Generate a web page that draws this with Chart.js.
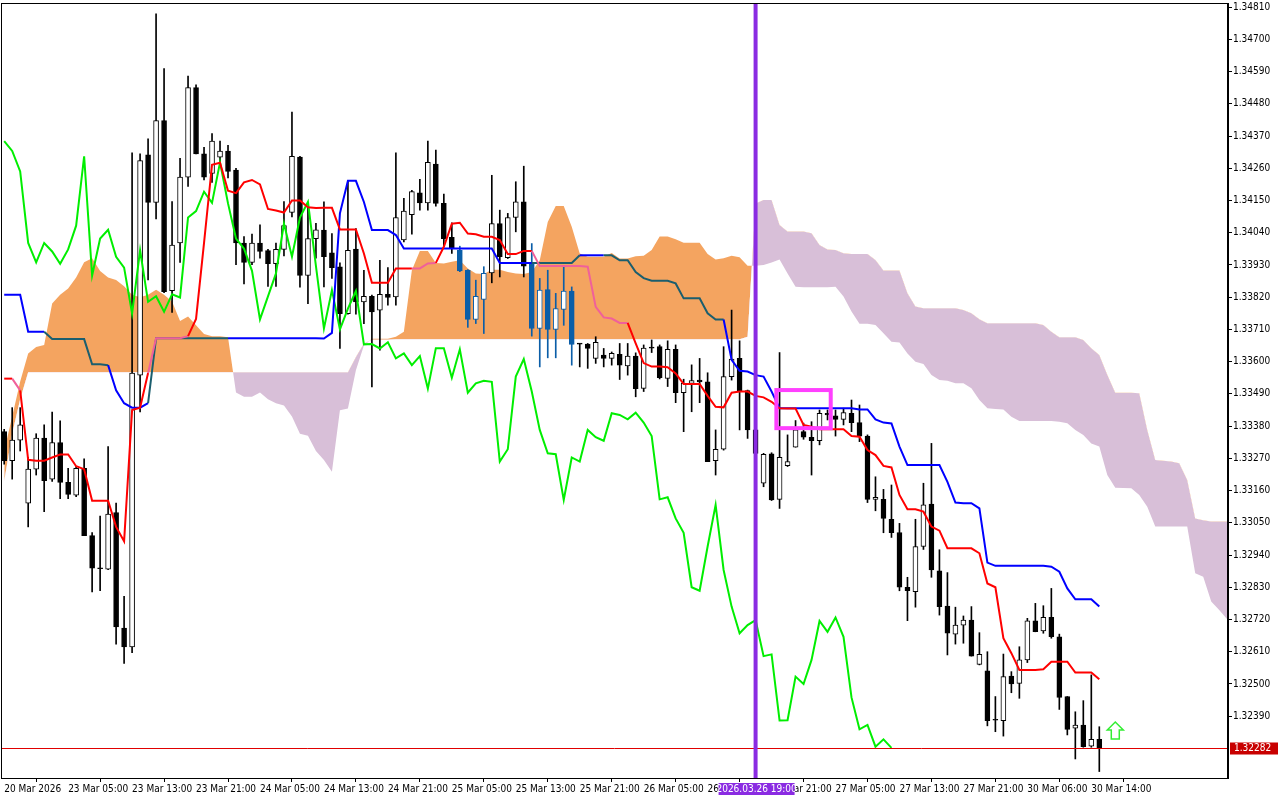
<!DOCTYPE html>
<html>
<head>
<meta charset="utf-8">
<script src="https://cdn.jsdelivr.net/npm/chart.js@4.4.1/dist/chart.umd.min.js"></script>
<style>
  html, body { margin: 0; padding: 0; background: #fff; }
  #wrap { width: 1280px; height: 800px; }
</style>
</head>
<body>
<div id="wrap"><canvas id="chart" width="1280" height="800"></canvas></div>
<script>
// hourly candles, index 0 = first visible bar
const opens = [1.33361,1.33262,1.33332,1.33117,1.33233,1.33339,1.33199,1.33324,1.33188,1.33144,
1.33236,1.33006,1.32895,1.32892,1.33085,1.32691,1.32626,1.33554,1.34306,1.34143,
1.34423,1.33842,1.34005,1.34230,1.34535,1.34309,1.34242,1.34298,1.34319,1.34254,
1.34005,1.33939,1.34005,1.33979,1.33934,1.33983,1.34109,1.34298,1.33894,1.34020,
1.34049,1.33971,1.33924,1.33764,1.33984,1.33804,1.33823,1.33776,1.33830,1.33821,
1.34015,1.34102,1.34176,1.34142,1.34274,1.34140,1.34024,1.33980,1.33912,1.33744,
1.33812,1.33903,1.34071,1.33955,1.34092,1.34145,1.33935,1.33713,1.33846,1.33710,
1.33778,1.33841,1.33662,1.33660,1.33611,1.33622,1.33611,1.33625,1.33585,1.33619,
1.33509,1.33648,1.33651,1.33543,1.33642,1.33494,1.33526,1.33537,1.33531,1.33262,
1.33301,1.33549,1.33611,1.33501,1.33367,1.33185,1.33285,1.33130,1.33245,1.33308,
1.33361,1.33342,1.33330,1.33424,1.33415,1.33403,1.33424,1.33392,1.33346,1.33130,
1.33130,1.33062,1.33017,1.32830,1.32815,1.32969,1.33114,1.32886,1.32766,1.32670,
1.32701,1.32718,1.32567,1.32545,1.32377,1.32375,1.32527,1.32502,1.32582,1.32715,
1.32681,1.32727,1.32661,1.32457,1.32349,1.32360,1.32288,1.32311];
const highs = [1.33369,1.33443,1.33443,1.33273,1.33354,1.33384,1.33428,1.33398,1.33236,1.33243,
1.33268,1.33017,1.33073,1.33310,1.33117,1.32799,1.34313,1.34309,1.34360,1.34787,
1.34600,1.34146,1.34294,1.34575,1.34545,1.34331,1.34378,1.34353,1.34338,1.34260,
1.34027,1.34035,1.34067,1.33983,1.34005,1.34146,1.34452,1.34301,1.34124,1.34072,
1.34145,1.34037,1.33937,1.34219,1.34054,1.33912,1.33827,1.33946,1.33921,1.34313,
1.34157,1.34185,1.34222,1.34353,1.34322,1.34172,1.34074,1.33994,1.33914,1.33878,
1.33924,1.34236,1.34117,1.34106,1.34214,1.34267,1.34003,1.33884,1.33912,1.33833,
1.33924,1.33855,1.33662,1.33662,1.33685,1.33645,1.33633,1.33662,1.33662,1.33630,
1.33657,1.33674,1.33657,1.33671,1.33657,1.33540,1.33589,1.33611,1.33562,1.33367,
1.33651,1.33776,1.33671,1.33503,1.33401,1.33287,1.33289,1.33631,1.33350,1.33399,
1.33390,1.33395,1.33435,1.33435,1.33435,1.33441,1.33469,1.33452,1.33350,1.33207,
1.33164,1.33179,1.33048,1.32864,1.33062,1.33185,1.33321,1.32958,1.32880,1.32762,
1.32732,1.32764,1.32675,1.32610,1.32457,1.32602,1.32542,1.32627,1.32724,1.32775,
1.32767,1.32826,1.32670,1.32457,1.32405,1.32443,1.32531,1.32354];
const lows = [1.33250,1.33199,1.33295,1.33036,1.33213,1.33088,1.33191,1.33132,1.33132,1.33139,
1.33006,1.32814,1.32818,1.32890,1.32636,1.32570,1.32607,1.33428,1.33879,1.34087,
1.33835,1.33768,1.33939,1.34198,1.34309,1.34220,1.34212,1.34279,1.34227,1.33931,
1.33865,1.33931,1.33953,1.33857,1.33857,1.33961,1.34094,1.33854,1.33798,1.33953,
1.33855,1.33884,1.33645,1.33762,1.33762,1.33730,1.33514,1.33639,1.33793,1.33793,
1.34009,1.34035,1.34117,1.34117,1.34131,1.33992,1.33969,1.33907,1.33717,1.33730,
1.33696,1.33869,1.33889,1.33952,1.34043,1.33889,1.33687,1.33582,1.33613,1.33613,
1.33724,1.33588,1.33582,1.33577,1.33594,1.33582,1.33588,1.33539,1.33554,1.33480,
1.33498,1.33631,1.33541,1.33515,1.33460,1.33361,1.33429,1.33460,1.33259,1.33213,
1.33298,1.33537,1.33367,1.33338,1.33276,1.33173,1.33126,1.33099,1.33242,1.33308,
1.33335,1.33213,1.33316,1.33401,1.33346,1.33384,1.33361,1.33327,1.33119,1.33091,
1.33016,1.33000,1.32818,1.32716,1.32762,1.32959,1.32864,1.32735,1.32599,1.32636,
1.32639,1.32595,1.32565,1.32357,1.32337,1.32322,1.32470,1.32451,1.32573,1.32678,
1.32673,1.32656,1.32413,1.32326,1.32244,1.32284,1.32284,1.32201];
const closes = [1.33262,1.33332,1.33384,1.33233,1.33339,1.33194,1.33324,1.33188,1.33147,1.33236,
1.33006,1.32895,1.32893,1.33080,1.32695,1.32626,1.33561,1.34286,1.34143,1.34423,
1.33839,1.33998,1.34230,1.34535,1.34309,1.34230,1.34353,1.34319,1.34249,1.34005,
1.33939,1.34005,1.33976,1.33934,1.33983,1.34064,1.34301,1.33894,1.34020,1.34050,
1.33958,1.33921,1.33764,1.33980,1.33804,1.33823,1.33770,1.33830,1.33819,1.34092,
1.34114,1.34180,1.34142,1.34280,1.34140,1.34020,1.33986,1.33910,1.33744,1.33823,
1.33901,1.34071,1.33958,1.34092,1.34145,1.33926,1.33713,1.33844,1.33710,1.33781,
1.33841,1.33659,1.33660,1.33645,1.33666,1.33611,1.33628,1.33588,1.33619,1.33508,
1.33646,1.33646,1.33545,1.33642,1.33494,1.33526,1.33535,1.33531,1.33259,1.33301,
1.33549,1.33609,1.33498,1.33367,1.33287,1.33284,1.33128,1.33273,1.33259,1.33367,
1.33342,1.33330,1.33424,1.33418,1.33403,1.33426,1.33392,1.33346,1.33130,1.33137,
1.33065,1.33016,1.32830,1.32818,1.32969,1.33111,1.32889,1.32764,1.32673,1.32701,
1.32718,1.32595,1.32601,1.32375,1.32376,1.32525,1.32500,1.32582,1.32715,1.32678,
1.32727,1.32661,1.32454,1.32345,1.32360,1.32286,1.32311,1.32282];

// Ichimoku lines
const tenkan = [1.33542,1.33542,1.33502,1.33265,1.33262,1.33262,1.33273,1.33283,1.33283,1.33243,
1.33233,1.33125,1.33125,1.33125,1.33036,1.32987,1.33435,1.33443,1.33561,1.33680,
1.33680,1.33680,1.33680,1.33687,1.33746,1.34005,1.34272,1.34279,1.34183,1.34175,
1.34212,1.34220,1.34205,1.34121,1.34116,1.34109,1.34150,1.34150,1.34127,1.34124,
1.34125,1.34125,1.34051,1.34051,1.34051,1.33969,1.33869,1.33869,1.33869,1.33918,
1.33918,1.33918,1.33918,1.33935,1.33937,1.33992,1.34071,1.34074,1.34037,1.34035,
1.34026,1.34026,1.34015,1.33967,1.33967,1.33978,1.33978,1.33926,1.33926,1.33926,
1.33926,1.33926,1.33926,1.33924,1.33787,1.33751,1.33747,1.33732,1.33732,1.33662,
1.33595,1.33583,1.33583,1.33581,1.33560,1.33524,1.33524,1.33524,1.33483,1.33446,
1.33444,1.33494,1.33498,1.33498,1.33483,1.33478,1.33463,1.33441,1.33440,1.33440,
1.33384,1.33378,1.33369,1.33369,1.33369,1.33369,1.33346,1.33344,1.33298,1.33281,
1.33244,1.33239,1.33145,1.33096,1.33096,1.33088,1.33037,1.33023,1.32963,1.32963,
1.32963,1.32963,1.32946,1.32843,1.32830,1.32656,1.32605,1.32548,1.32548,1.32548,
1.32550,1.32576,1.32576,1.32576,1.32539,1.32539,1.32539,1.32516];
const kijun = [1.33828,1.33828,1.33828,1.33702,1.33702,1.33702,1.33677,1.33677,1.33677,1.33677,
1.33677,1.33591,1.33591,1.33588,1.33502,1.33458,1.33443,1.33443,1.33458,1.33680,
1.33680,1.33680,1.33680,1.33680,1.33680,1.33680,1.33680,1.33680,1.33680,1.33680,
1.33680,1.33680,1.33680,1.33680,1.33680,1.33680,1.33680,1.33680,1.33680,1.33680,
1.33679,1.33698,1.34106,1.34217,1.34217,1.34145,1.34049,1.34049,1.34049,1.34032,
1.33986,1.33986,1.33986,1.33986,1.33986,1.33986,1.33986,1.33986,1.33986,1.33986,
1.33986,1.33986,1.33937,1.33937,1.33937,1.33937,1.33937,1.33937,1.33937,1.33937,
1.33937,1.33937,1.33963,1.33963,1.33963,1.33963,1.33963,1.33946,1.33946,1.33906,
1.33885,1.33876,1.33876,1.33876,1.33867,1.33816,1.33816,1.33816,1.33765,1.33744,
1.33744,1.33606,1.33569,1.33566,1.33554,1.33549,1.33498,1.33441,1.33441,1.33441,
1.33441,1.33441,1.33441,1.33441,1.33441,1.33441,1.33441,1.33437,1.33437,1.33403,
1.33392,1.33389,1.33310,1.33247,1.33247,1.33247,1.33247,1.33247,1.33190,1.33119,
1.33117,1.33117,1.33099,1.32914,1.32903,1.32903,1.32903,1.32903,1.32903,1.32903,
1.32903,1.32900,1.32883,1.32826,1.32789,1.32789,1.32789,1.32764];
// cloud, already shifted 26 bars forward (runs past the last candle)
const senkouA = [1.33295,1.33413,1.33532,1.33628,1.33650,1.33657,1.33798,1.33828,1.33850,1.33887,
1.33939,1.33953,1.33909,1.33887,1.33879,1.33857,1.33828,1.33820,1.33828,1.33845,
1.33828,1.33805,1.33739,1.33754,1.33724,1.33694,1.33687,1.33687,1.33683,1.33495,
1.33480,1.33480,1.33495,1.33472,1.33458,1.33450,1.33413,1.33354,1.33347,1.33295,
1.33264,1.33224,1.33434,1.33440,1.33571,1.33655,1.33678,1.33678,1.33678,1.33685,
1.33702,1.33912,1.33978,1.33978,1.33937,1.33935,1.33941,1.33946,1.33918,1.33901,
1.33899,1.33914,1.33914,1.33906,1.33901,1.33899,1.33906,1.33946,1.34077,1.34131,
1.34131,1.34060,1.33969,1.33958,1.33958,1.33958,1.33971,1.33952,1.33952,1.33960,
1.33961,1.33981,1.34027,1.34027,1.34018,1.34006,1.34006,1.34006,1.33967,1.33949,
1.33953,1.33961,1.33956,1.33927,1.33927,1.33930,1.33938,1.33949,1.33901,1.33856,
1.33854,1.33854,1.33854,1.33854,1.33856,1.33822,1.33771,1.33729,1.33729,1.33725,
1.33697,1.33668,1.33665,1.33628,1.33600,1.33592,1.33554,1.33537,1.33535,1.33526,
1.33526,1.33509,1.33469,1.33441,1.33438,1.33437,1.33412,1.33397,1.33397,1.33397,
1.33397,1.33397,1.33395,1.33390,1.33367,1.33350,1.33321,1.33310,1.33213,1.33170,
1.33169,1.33168,1.33145,1.33105,1.33037,1.33037,1.33037,1.33037,1.33037,1.32878,
1.32866,1.32781,1.32752,1.32721];
const senkouB = [1.33191,1.33354,1.33472,1.33564,1.33564,1.33564,1.33564,1.33564,1.33564,1.33564,
1.33564,1.33564,1.33564,1.33564,1.33564,1.33564,1.33564,1.33564,1.33564,1.33564,
1.33564,1.33564,1.33564,1.33564,1.33564,1.33564,1.33564,1.33564,1.33564,1.33564,
1.33564,1.33564,1.33564,1.33564,1.33564,1.33564,1.33564,1.33564,1.33564,1.33564,
1.33564,1.33564,1.33564,1.33564,1.33616,1.33662,1.33675,1.33675,1.33675,1.33676,
1.33676,1.33676,1.33676,1.33676,1.33676,1.33676,1.33676,1.33676,1.33676,1.33676,
1.33676,1.33676,1.33676,1.33676,1.33676,1.33676,1.33676,1.33676,1.33676,1.33676,
1.33676,1.33676,1.33676,1.33676,1.33676,1.33676,1.33676,1.33676,1.33676,1.33676,
1.33676,1.33676,1.33676,1.33676,1.33676,1.33676,1.33676,1.33676,1.33676,1.33676,
1.33676,1.33676,1.33676,1.33685,1.34140,1.34152,1.34152,1.34066,1.34044,1.34044,
1.34044,1.34038,1.33998,1.33983,1.33981,1.33970,1.33967,1.33967,1.33967,1.33947,
1.33911,1.33911,1.33911,1.33833,1.33788,1.33782,1.33782,1.33782,1.33782,1.33782,
1.33776,1.33765,1.33745,1.33731,1.33731,1.33731,1.33731,1.33731,1.33731,1.33731,
1.33725,1.33702,1.33683,1.33683,1.33683,1.33674,1.33646,1.33623,1.33555,1.33494,
1.33494,1.33494,1.33492,1.33367,1.33264,1.33262,1.33259,1.33253,1.33196,1.33065,
1.33059,1.33054,1.33054,1.33054];

const xLabels = ['20 Mar 2026','23 Mar 05:00','23 Mar 13:00','23 Mar 21:00','24 Mar 05:00','24 Mar 13:00',
  '24 Mar 21:00','25 Mar 05:00','25 Mar 13:00','25 Mar 21:00','26 Mar 05:00','26 Mar 13:00',
  '26 Mar 21:00','27 Mar 05:00','27 Mar 13:00','27 Mar 21:00','30 Mar 06:00','30 Mar 14:00'];
const yTicks = [1.34810,1.34700,1.34590,1.34480,1.34370,1.34260,1.34150,1.34040,1.33930,1.33820,
  1.33710,1.33600,1.33490,1.33380,1.33270,1.33160,1.33050,1.32940,1.32830,1.32720,1.32610,1.32500,1.32390];

const chikouShift = 26;
const bidPrice = 1.32282;
const markerBar = 94, markerText = '2026.03.26 19:00';
const boxFrom = 97, boxTo = 103, boxHigh = 1.33503, boxLow = 1.33373;
const arrowBar = 139, arrowPrice = 1.32370;

const ORANGE = '#f4a460', THISTLE = '#d8bfd8', INBLUE = '#0b5ea8';

function inOrange(i, v) {
  return senkouA[i] > senkouB[i] && v <= senkouA[i] && v >= senkouB[i];
}
const candleColor = opens.map((o, i) => inOrange(i, (o + closes[i]) / 2) ? INBLUE : '#000');

const wicks = lows.map((l, i) => ({ x: i, y: [l, highs[i]] }));
const bodies = opens.map((o, i) => ({ x: i, y: [Math.min(o, closes[i]), Math.max(o, closes[i])] }));
const pts = arr => arr.map((y, i) => ({ x: i, y }));
const chikou = closes.slice(chikouShift).map((y, i) => ({ x: i, y }));

const overlay = {
  id: 'overlay',
  afterDatasetsDraw(chart) {
    const { ctx, chartArea: a, scales: { x, y } } = chart;
    ctx.save();
    ctx.beginPath(); ctx.rect(a.left, a.top, a.right - a.left, a.bottom - a.top); ctx.clip();
    // bid line
    const py = Math.round(y.getPixelForValue(bidPrice)) + 0.5;
    ctx.strokeStyle = '#e00000'; ctx.lineWidth = 1;
    ctx.beginPath(); ctx.moveTo(a.left, py); ctx.lineTo(a.right, py); ctx.stroke();
    // magenta box
    ctx.strokeStyle = '#ff40ff'; ctx.lineWidth = 4;
    const bx0 = x.getPixelForValue(boxFrom - 0.4), bx1 = x.getPixelForValue(boxTo + 0.4);
    const by0 = y.getPixelForValue(boxHigh), by1 = y.getPixelForValue(boxLow);
    ctx.strokeRect(bx0, by0, bx1 - bx0, by1 - by0);
    // arrow
    const ax = x.getPixelForValue(arrowBar), ay = y.getPixelForValue(arrowPrice);
    ctx.strokeStyle = '#33ee33'; ctx.fillStyle = '#fff'; ctx.lineWidth = 1.5;
    ctx.beginPath();
    ctx.moveTo(ax, ay); ctx.lineTo(ax + 8, ay + 8); ctx.lineTo(ax + 4, ay + 8); ctx.lineTo(ax + 4, ay + 17);
    ctx.lineTo(ax - 4, ay + 17); ctx.lineTo(ax - 4, ay + 8); ctx.lineTo(ax - 8, ay + 8); ctx.closePath();
    ctx.fill(); ctx.stroke();
    // vertical marker
    const vx = x.getPixelForValue(markerBar);
    ctx.strokeStyle = '#8a2be2'; ctx.lineWidth = 4;
    ctx.beginPath(); ctx.moveTo(vx, a.top); ctx.lineTo(vx, a.bottom); ctx.stroke();
    ctx.restore();

    // frame
    ctx.save();
    ctx.strokeStyle = '#000'; ctx.lineWidth = 1;
    ctx.strokeRect(a.left + 0.5, a.top + 0.5, a.right - a.left - 1, a.bottom - a.top);
    // labels
    ctx.font = '10px "DejaVu Sans Condensed", "DejaVu Sans", sans-serif';
    ctx.textBaseline = 'middle';
    ctx.fillStyle = '#c80000';
    ctx.fillRect(a.right + 2, py - 6, 48, 12);
    ctx.fillStyle = '#fff'; ctx.textAlign = 'left';
    ctx.fillText(bidPrice.toFixed(5), a.right + 6, py);
    ctx.fillStyle = '#8a2be2';
    ctx.fillRect(vx - 37, a.bottom + 5, 76, 12);
    ctx.fillStyle = '#fff'; ctx.textAlign = 'center';
    ctx.fillText(markerText, vx + 1, a.bottom + 11);
    ctx.restore();
  }
};

new Chart(document.getElementById('chart'), {
  type: 'bar',
  data: {
    datasets: [
      { type: 'line', data: pts(senkouA), borderWidth: 0, pointRadius: 0,
        fill: { target: 1, above: ORANGE, below: THISTLE }, order: 20 },
      { type: 'line', data: pts(senkouB), borderWidth: 0, pointRadius: 0, fill: false, order: 20 },
      { data: wicks, grouped: false, barThickness: 1, backgroundColor: candleColor, order: 6 },
      { data: bodies, grouped: false, barThickness: 5, minBarLength: 1, borderSkipped: false,
        backgroundColor: opens.map((o, i) => closes[i] >= o ? '#fff' : candleColor[i]),
        borderColor: candleColor, borderWidth: 1, order: 5 },
      { type: 'line', data: chikou, borderColor: '#00ee00', borderWidth: 2, pointRadius: 0, order: 3 },
      { type: 'line', data: pts(kijun), borderColor: '#0000ff', borderWidth: 2, pointRadius: 0, order: 2,
        segment: { borderColor: c => inOrange(c.p1DataIndex, c.p1.parsed.y) ? '#1b5e6e' : '#0000ff' } },
      { type: 'line', data: pts(tenkan), borderColor: '#ff0000', borderWidth: 2, pointRadius: 0, order: 1,
        segment: { borderColor: c => inOrange(c.p1DataIndex, c.p1.parsed.y) ? '#f0609a' : '#ff0000' } }
    ]
  },
  options: {
    responsive: false,
    animation: false,
    layout: { padding: { top: 3, left: 1, right: 0, bottom: 0 } },
    plugins: { legend: { display: false }, tooltip: { enabled: false } },
    scales: {
      x: {
        type: 'linear', min: -0.4, max: 153.1, offset: false,
        afterBuildTicks: s => { s.ticks = xLabels.map((_, k) => ({ value: k * 8 })); },
        afterFit: s => { s.height = 22; s.paddingLeft = 0; s.paddingRight = 0; },
        grid: { drawOnChartArea: false, drawTicks: true, tickLength: 4, color: '#000' },
        border: { color: '#000' },
        ticks: { align: 'start', maxRotation: 0, autoSkip: false, padding: 1, color: '#000',
          font: { family: '"DejaVu Sans Condensed", "DejaVu Sans", sans-serif', size: 10 },
          callback: v => xLabels[Math.round(v / 8)] }
      },
      y: {
        position: 'right', min: 1.32179, max: 1.34824,
        afterBuildTicks: s => { s.ticks = yTicks.map(v => ({ value: v })); },
        afterFit: s => { s.width = 52; s.paddingTop = 0; s.paddingBottom = 0; },
        grid: { drawOnChartArea: false, drawTicks: true, tickLength: 4, color: '#000' },
        border: { color: '#000' },
        ticks: { padding: 1, color: '#000',
          font: { family: '"DejaVu Sans Condensed", "DejaVu Sans", sans-serif', size: 10 },
          callback: v => v.toFixed(5) }
      }
    }
  },
  plugins: [overlay]
});
</script>
</body>
</html>
